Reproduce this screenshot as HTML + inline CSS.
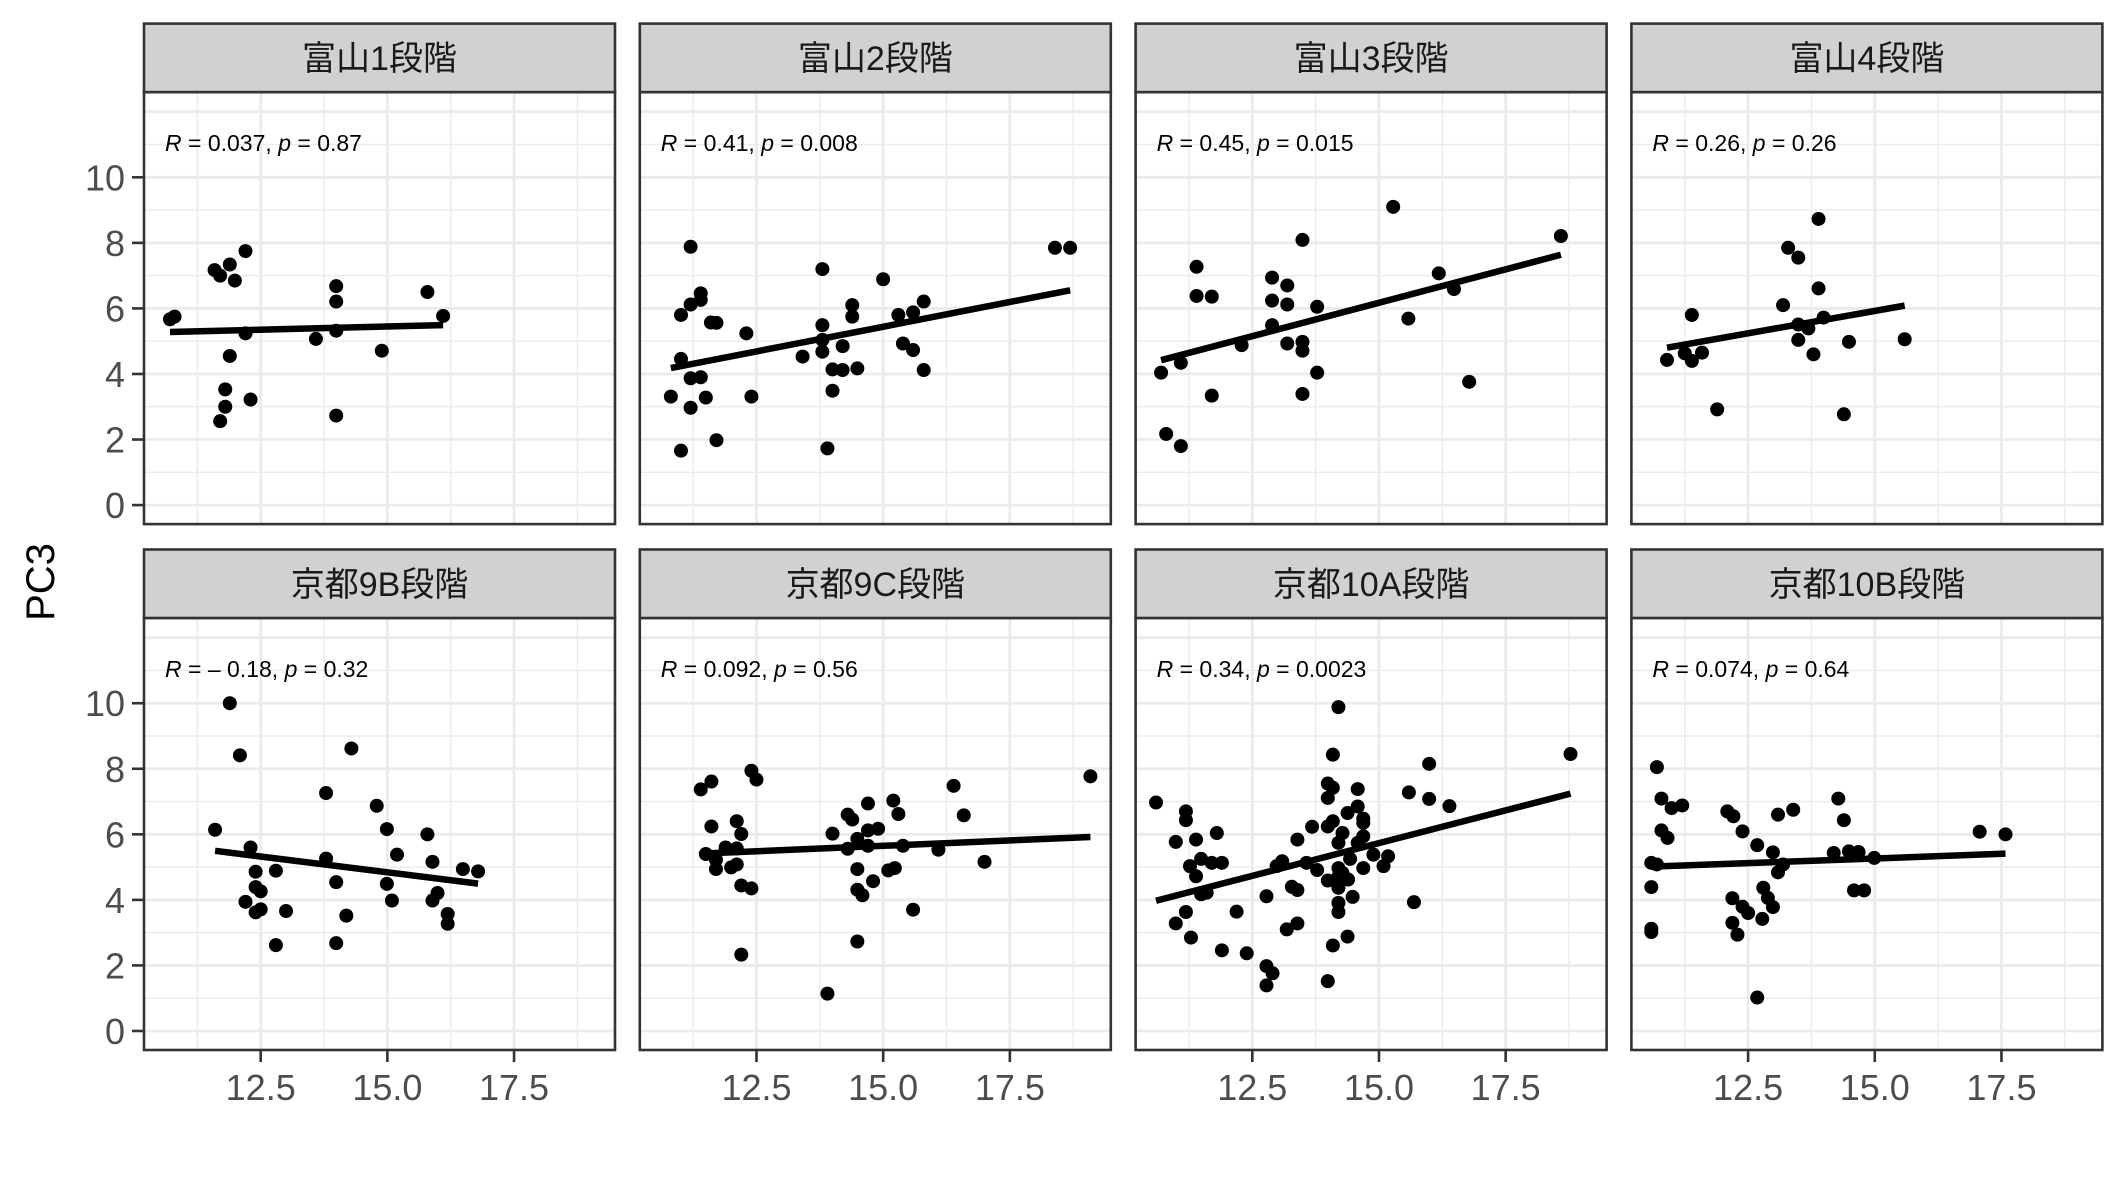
<!DOCTYPE html>
<html><head><meta charset="utf-8">
<style>
html,body{margin:0;padding:0;background:#fff;}
svg{display:block;}
</style></head>
<body>
<svg id="chart" width="2125" height="1181" viewBox="0 0 2125 1181" xmlns="http://www.w3.org/2000/svg">
<rect x="0" y="0" width="2125" height="1181" fill="#fff"/>
<text x="0" y="0" transform="translate(54,582) rotate(-90)" text-anchor="middle" font-family="Liberation Sans, sans-serif" font-size="40" fill="#000">PC3</text>
</svg>
<script>
const panelTitles = ["富山1段階","富山2段階","富山3段階","富山4段階","京都9B段階","京都9C段階","京都10A段階","京都10B段階"];
const statR = ["0.037","0.41","0.45","0.26","\u2013 0.18","0.092","0.34","0.074"];
const statP = ["0.87","0.008","0.015","0.26","0.32","0.56","0.0023","0.64"];
const xTicks = [12.5, 15.0, 17.5];
const xTickLabels = ["12.5","15.0","17.5"];
const yTicks = [0,2,4,6,8,10];
const yTickLabels = ["0","2","4","6","8","10"];

const p1x=[10.71,10.80,11.59,11.70,11.89,12.20,11.99,12.20,11.89,11.80,11.80,11.70,12.30,13.99,13.99,13.99,13.59,14.89,13.99,15.79,16.10];
const p1y=[5.67,5.75,7.17,7.00,7.34,7.75,6.85,5.24,4.55,3.53,3.00,2.56,3.22,6.68,6.21,5.32,5.07,4.71,2.73,6.50,5.77];
const p2x=[11.20,11.40,11.20,11.40,11.01,11.60,11.71,12.30,11.01,11.20,11.40,10.81,11.50,11.20,12.40,11.71,11.01,13.80,15.00,14.39,14.39,13.80,13.80,13.80,14.20,13.41,14.00,14.20,14.49,14.00,13.90,15.30,15.59,15.80,15.39,15.59,15.80,18.39,18.69];
const p2y=[7.88,6.46,6.12,6.26,5.80,5.57,5.56,5.24,4.46,3.87,3.90,3.31,3.28,2.97,3.31,1.98,1.66,7.20,6.89,6.10,5.75,5.49,5.04,4.68,4.85,4.53,4.14,4.12,4.17,3.49,1.73,5.80,5.88,6.21,4.93,4.73,4.12,7.85,7.85];
const p3x=[10.70,11.09,10.80,11.09,11.40,11.40,11.70,11.70,12.29,12.89,13.19,12.89,13.19,12.89,13.78,13.49,13.19,13.49,13.49,13.78,13.49,15.28,15.58,16.18,16.48,16.78,18.59];
const p3y=[4.04,4.34,2.17,1.80,7.27,6.38,6.36,3.34,4.88,6.94,6.70,6.24,6.12,5.49,6.05,8.09,4.93,4.98,4.71,4.04,3.39,9.10,5.69,7.07,6.59,3.76,8.21];
const p4x=[10.90,11.39,11.25,11.39,11.59,11.89,13.29,13.49,13.89,13.89,13.19,13.49,13.69,13.99,13.49,13.79,14.49,14.39,15.59];
const p4y=[4.43,5.80,4.63,4.40,4.65,2.92,7.85,7.55,8.73,6.61,6.10,5.51,5.39,5.72,5.04,4.60,4.98,2.77,5.06];
const p5x=[11.89,12.09,14.29,13.79,14.79,11.60,14.99,15.79,12.30,13.79,15.19,15.89,16.49,16.79,12.40,12.80,13.99,14.99,12.40,12.50,12.20,12.40,12.50,13.00,15.09,15.89,15.99,14.19,16.19,16.19,12.80,13.99];
const p5y=[10.0,8.41,8.62,7.26,6.87,6.14,6.16,6.00,5.60,5.26,5.38,5.16,4.94,4.87,4.86,4.89,4.54,4.49,4.39,4.26,3.94,3.62,3.71,3.66,3.98,3.98,4.21,3.52,3.57,3.27,2.62,2.68];
const p6x=[11.40,11.61,12.40,12.50,11.61,12.11,12.20,11.89,12.11,11.50,11.70,11.70,12.00,12.11,12.20,12.40,12.20,14.30,14.39,14.70,15.20,15.30,14.00,14.70,14.90,14.49,14.30,14.70,15.39,16.09,14.49,14.80,15.10,15.23,14.49,14.59,15.59,14.49,13.90,16.39,16.59,17.00,19.09];
const p6y=[7.37,7.61,7.94,7.67,6.24,6.40,6.01,5.60,5.57,5.40,5.23,4.94,4.99,5.08,4.44,4.35,2.33,6.60,6.45,6.94,7.03,6.62,6.02,6.12,6.17,5.86,5.56,5.65,5.65,5.53,4.94,4.57,4.90,4.97,4.31,4.14,3.70,2.73,1.14,7.48,6.58,5.16,7.77];
const p7x=[10.60,11.19,11.19,10.99,11.39,11.80,11.27,11.49,11.70,11.90,11.39,11.49,11.60,11.19,10.99,11.29,12.19,11.90,12.39,12.78,12.90,12.78,12.78,13.09,12.98,13.39,13.68,13.28,13.39,13.18,13.39,13.57,13.78,13.99,14.09,14.38,14.20,14.09,13.99,14.09,13.99,14.58,14.58,14.38,14.69,14.69,14.09,13.99,14.28,14.69,14.20,14.58,14.43,14.20,13.99,14.20,14.28,14.39,14.20,14.48,14.20,14.20,14.69,14.89,15.09,15.18,15.69,15.59,15.99,15.99,16.39,18.78];
const p7y=[6.97,6.70,6.43,5.77,5.84,6.04,5.03,5.25,5.13,5.13,4.72,4.17,4.22,3.63,3.28,2.85,3.64,2.46,2.37,1.98,1.76,1.39,4.11,5.18,5.03,5.84,6.23,4.40,4.30,3.10,3.28,5.13,4.91,1.52,2.61,2.88,9.88,8.43,7.55,7.42,7.11,7.38,6.85,6.65,6.48,6.35,6.40,6.24,6.04,5.94,5.74,5.74,5.25,4.97,4.59,4.72,4.82,4.62,4.37,4.09,3.91,3.63,4.97,5.38,5.03,5.33,3.93,7.28,8.15,7.08,6.86,8.45];
const p8x=[10.70,10.79,10.99,11.20,10.79,10.91,10.59,10.70,10.59,10.59,10.59,12.09,12.21,12.39,12.68,12.99,13.09,13.39,13.19,13.09,12.80,12.89,12.99,12.19,12.39,12.50,12.78,12.19,12.29,12.68,14.28,14.39,14.19,14.49,14.68,14.99,14.59,14.79,17.07,17.58];
const p8y=[8.05,7.09,6.80,6.88,6.12,5.89,5.13,5.08,4.39,3.12,3.02,6.70,6.55,6.09,5.67,5.45,6.60,6.75,5.08,4.84,4.37,4.06,3.78,4.05,3.79,3.60,3.42,3.30,2.94,1.02,7.09,6.43,5.43,5.48,5.46,5.28,4.29,4.29,6.08,6.00];

const seriesX=[p1x,p2x,p3x,p4x,p5x,p6x,p7x,p8x];
const seriesY=[p1y,p2y,p3y,p4y,p5y,p6y,p7y,p8y];

const NS="http://www.w3.org/2000/svg";
const svg=document.getElementById('chart');
const PW=471, STRIP=68.5, PH=432;
const lefts=[144,639.8,1135.6,1631.4];
const tops=[23.6,549.5];
const XMIN=10.197, XMAX=19.492, YMIN=-0.58, YMAX=12.60;
function mk(tag,attrs){const e=document.createElementNS(NS,tag);for(const k in attrs)e.setAttribute(k,attrs[k]);return e;}

for(let i=0;i<8;i++){
  const col=i%4,row=Math.floor(i/4);
  const L=lefts[col], ST=tops[row], T=ST+STRIP, B=T+PH, R=L+PW;
  const sx=v=>L+(v-XMIN)/(XMAX-XMIN)*PW;
  const sy=v=>B-(v-YMIN)/(YMAX-YMIN)*PH;
  const g=mk('g',{});
  
  
  svg.appendChild(g);
  g.appendChild(mk('rect',{x:L,y:T,width:PW,height:PH,fill:'#fff'}));
  for(let v=11.25;v<XMAX;v+=2.5){g.appendChild(mk('line',{x1:sx(v),x2:sx(v),y1:T,y2:B,stroke:'#ebebeb','stroke-width':1.4}));}
  for(let v=-1;v<YMAX;v+=2){if(v<YMIN)continue;g.appendChild(mk('line',{x1:L,x2:R,y1:sy(v),y2:sy(v),stroke:'#ebebeb','stroke-width':1.4}));}
  for(let v=10;v<XMAX;v+=2.5){if(v<XMIN)continue;g.appendChild(mk('line',{x1:sx(v),x2:sx(v),y1:T,y2:B,stroke:'#ebebeb','stroke-width':2.8}));}
  for(let v=0;v<YMAX;v+=2){g.appendChild(mk('line',{x1:L,x2:R,y1:sy(v),y2:sy(v),stroke:'#ebebeb','stroke-width':2.8}));}
  const xs=seriesX[i], ys=seriesY[i];
  for(let k=0;k<xs.length;k++){
    const c=mk('circle',{cx:sx(xs[k]),cy:sy(ys[k]),r:7,fill:'#000'});
    
    
    g.appendChild(c);
  }
  const n=xs.length;let mx=0,my=0;for(let k=0;k<n;k++){mx+=xs[k];my+=ys[k];}mx/=n;my/=n;
  let sxy=0,sxx=0;for(let k=0;k<n;k++){sxy+=(xs[k]-mx)*(ys[k]-my);sxx+=(xs[k]-mx)**2;}
  const b=sxy/sxx,a=my-b*mx;const x0=Math.min(...xs),x1=Math.max(...xs);
  const ln=mk('line',{x1:sx(x0),y1:sy(a+b*x0),x2:sx(x1),y2:sy(a+b*x1),stroke:'#000','stroke-width':6.5});
  
  
  g.appendChild(ln);
  const t=mk('text',{x:L+21,y:T+59,'font-family':'Liberation Sans, sans-serif','font-size':23,fill:'#000'});
  
  
  t.innerHTML='<tspan font-style="italic">R</tspan> = '+statR[i]+', <tspan font-style="italic">p</tspan> = '+statP[i];
  g.appendChild(t);
  g.appendChild(mk('rect',{x:L,y:T,width:PW,height:PH,fill:'none',stroke:'#333','stroke-width':2.6}));
  const s=mk('rect',{x:L,y:ST,width:PW,height:STRIP,fill:'#d1d1d1',stroke:'#333','stroke-width':2.6});
  
  
  g.appendChild(s);
  const st=mk('text',{x:L+PW/2,y:ST+STRIP/2+12,'text-anchor':'middle','font-family':'Liberation Sans, Noto Sans CJK JP, sans-serif','font-size':34,fill:'#1a1a1a'});
  
  
  st.textContent=panelTitles[i];
  g.appendChild(st);
  if(col===0){
    for(let k=0;k<yTicks.length;k++){
      const y=sy(yTicks[k]);
      g.appendChild(mk('line',{x1:L-12,x2:L,y1:y,y2:y,stroke:'#333','stroke-width':2.6}));
      const yl=mk('text',{x:L-19,y:y+13,'text-anchor':'end','font-family':'Liberation Sans, sans-serif','font-size':36,fill:'#4d4d4d'});
      
      
      yl.textContent=yTickLabels[k];
      g.appendChild(yl);
    }
  }
  if(row===1){
    for(let k=0;k<xTicks.length;k++){
      const x=sx(xTicks[k]);
      g.appendChild(mk('line',{x1:x,x2:x,y1:B,y2:B+12,stroke:'#333','stroke-width':2.6}));
      const xl=mk('text',{x:x,y:B+50,'text-anchor':'middle','font-family':'Liberation Sans, sans-serif','font-size':36,fill:'#4d4d4d'});
      
      
      xl.textContent=xTickLabels[k];
      g.appendChild(xl);
    }
  }
}
</script>
</body></html>
